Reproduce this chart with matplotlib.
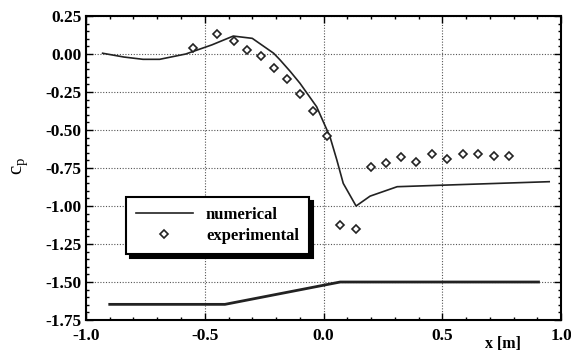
import matplotlib
matplotlib.use("Agg")
import matplotlib.pyplot as plt
from matplotlib.ticker import MultipleLocator, FormatStrFormatter

plt.rcParams["font.family"] = ["Liberation Serif", "DejaVu Serif"]
plt.rcParams["axes.unicode_minus"] = False
plt.rcParams["mathtext.fontset"] = "custom"
plt.rcParams["mathtext.rm"] = "Liberation Serif"
plt.rcParams["mathtext.it"] = "Liberation Serif"

# numerical c_p along the wall
num_x = [-0.93, -0.84, -0.76, -0.69, -0.58, -0.47, -0.38, -0.30, -0.21, -0.183, -0.14,
         -0.099, -0.029, 0.027, 0.056, 0.083, 0.137, 0.196, 0.31, 0.52, 0.95]
num_cp = [0.005, -0.02, -0.035, -0.035, 0.0, 0.06, 0.118, 0.103, 0.005, -0.039, -0.115,
          -0.193, -0.347, -0.544, -0.697, -0.851, -1.0, -0.935, -0.873, -0.862, -0.84]

# experimental c_p
exp_x = [-0.548, -0.447, -0.376, -0.321, -0.263, -0.208, -0.155, -0.099, -0.043, 0.013,
         0.069, 0.137, 0.199, 0.263, 0.328, 0.391, 0.457, 0.521, 0.586, 0.652, 0.717, 0.782]
exp_cp = [0.037, 0.13, 0.086, 0.026, -0.011, -0.092, -0.164, -0.263, -0.375, -0.539,
          -1.125, -1.151, -0.741, -0.719, -0.680, -0.713, -0.658, -0.693, -0.658, -0.660, -0.669, -0.671]

# wall geometry sketch
geo_x = [-0.9, -0.415, 0.07, 0.905]
geo_y = [-1.647, -1.647, -1.5, -1.5]

fig = plt.figure(figsize=(5.71, 3.54), dpi=100)
ax = fig.add_axes([0.1506, 0.096, 0.832, 0.8588])

ax.plot(num_x, num_cp, color="#222222", lw=1.2, label="numerical")
ax.plot(exp_x, exp_cp, ls="none", marker="D", ms=4.5, mfc="white", mec="#222222",
        mew=1.2, label="experimental")
ax.plot(geo_x, geo_y, color="#222222", lw=2.0)

ax.set_xlim(-1.0, 1.0)
ax.set_ylim(-1.75, 0.25)
ax.xaxis.set_major_locator(MultipleLocator(0.5))
ax.xaxis.set_minor_locator(MultipleLocator(0.1))
ax.yaxis.set_major_locator(MultipleLocator(0.25))
ax.yaxis.set_minor_locator(MultipleLocator(0.05))
ax.xaxis.set_major_formatter(FormatStrFormatter("%.1f"))
ax.yaxis.set_major_formatter(FormatStrFormatter("%.2f"))
ax.tick_params(which="both", direction="in", top=True, right=True, width=1.0)
ax.tick_params(which="major", length=5, labelsize=12.5)
ax.tick_params(which="minor", length=2.5)
ax.tick_params(axis="x", which="major", pad=6)
ax.tick_params(axis="y", which="major", pad=3)
for lab in ax.get_xticklabels() + ax.get_yticklabels():
    lab.set_fontweight("bold")
for sp in ax.spines.values():
    sp.set_linewidth(1.5)
ax.grid(True, which="major", ls=(0, (1, 1.5)), color="#555555", lw=0.8)

leg = ax.legend(loc="upper left", bbox_to_anchor=(0.084, 0.405), borderaxespad=0,
                fontsize=12, frameon=True, fancybox=False, framealpha=1, edgecolor="black",
                shadow={"color": "black", "alpha": 1, "ox": 3, "oy": -3},
                handlelength=3.4, borderpad=0.6, labelspacing=0.3)
leg.get_frame().set_linewidth(1.5)
for t in leg.get_texts():
    t.set_fontweight("bold")

ax.text(0.878, -0.052, "x [m]", transform=ax.transAxes, ha="center", va="top",
        fontsize=11.5, fontweight="bold")
fig.text(0.035, 0.53, r"$\mathrm{c_p}$", rotation=90, ha="center", va="center",
         fontsize=15)

fig.savefig("out.png", dpi=100)
